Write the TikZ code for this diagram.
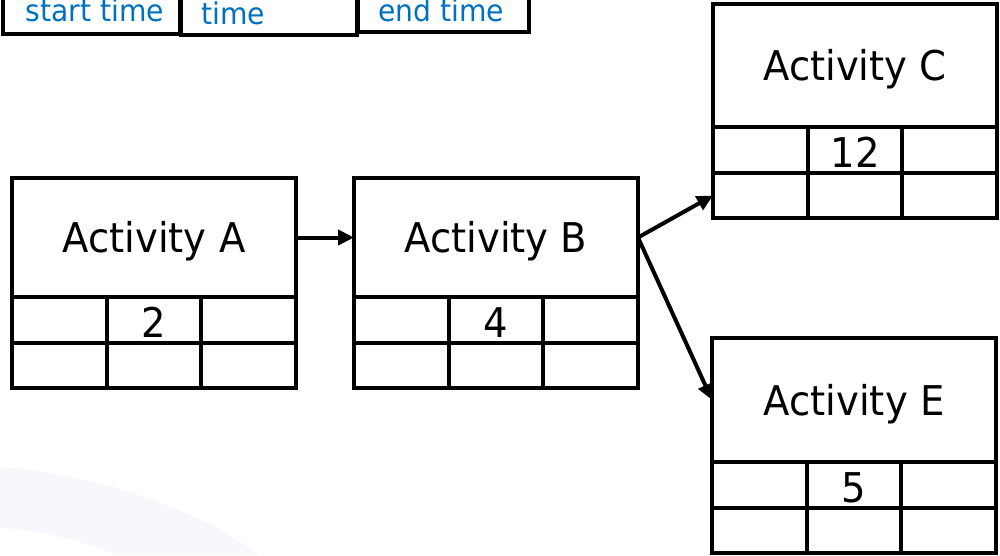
\documentclass[tikz,border=0pt]{standalone}
\usepackage{fontspec}
\setmainfont[FakeStretch=0.94]{DejaVu Sans}
\usetikzlibrary{arrows.meta}
\definecolor{lblblue}{RGB}{0,112,192}
\definecolor{bgarc}{RGB}{247,248,251}
\tikzset{
  box/.style={draw=black,line width=4pt,inner sep=0pt,outer sep=0pt},
  cell/.style={box,minimum width=94.67pt,minimum height=#1},
  title/.style={font=\fontsize{41}{41}\selectfont,anchor=base,inner sep=0pt},
  num/.style={font=\fontsize{41}{41}\selectfont,anchor=base,inner sep=0pt},
  toplbl/.style={font=\fontsize{30}{30}\selectfont,text=lblblue,anchor=base,inner sep=0pt},
  conn/.style={line width=4pt,-{Triangle[length=16pt,width=15pt]}}
}
\newcommand{\actbox}[6]{%
  \node[box,minimum width=284pt,minimum height=#4pt,anchor=north west] (#1-h) at (#2,#3) {};
  \node[title] (#1-t) at ([yshift=-15pt]#1-h.center) {#5};
  \node[cell=46pt,anchor=north west] (#1-a1) at (#1-h.south west) {};
  \node[cell=46pt,anchor=west] (#1-a2) at (#1-a1.east) {};
  \node[cell=46pt,anchor=west] (#1-a3) at (#1-a2.east) {};
  \node[cell=45pt,anchor=north west] (#1-b1) at (#1-a1.south west) {};
  \node[cell=45pt,anchor=west] (#1-b2) at (#1-b1.east) {};
  \node[cell=45pt,anchor=west] (#1-b3) at (#1-b2.east) {};
  \node[num] (#1-n) at ([yshift=-40pt]#1-a2.north) {#6};
}
\begin{document}
\begin{tikzpicture}[x=1pt,y=-1pt]
\useasboundingbox (0,0) rectangle (1000,555);
\clip (0,0) rectangle (1000,555);
% faint background arc
\fill[bgarc] (0,467) .. controls (100,475) and (200,510) .. (259,555)
  -- (116,555) .. controls (80,540) and (40,530) .. (0,528) -- cycle;
% top strip (cut off)
\node[box,minimum width=177pt,minimum height=60pt,anchor=south west] (t1) at (3,34) {};
\node[box,minimum width=176pt,minimum height=60pt,anchor=south west] (t2) at (181,35) {};
\node[box,minimum width=171pt,minimum height=60pt,anchor=south west] (t3) at (358,32) {};
\node[toplbl] (t1l) at (95,21) {start time};
\node[toplbl] (t2l) at (233,24) {time};
\node[toplbl] (t3l) at (441,21) {end time};
% activities
\actbox{A}{12}{178}{119}{Activity A}{2}
\actbox{B}{354}{178}{119}{Activity B}{4}
\actbox{C}{713}{4}{123}{Activity C}{12}
\actbox{E}{712}{338}{124}{Activity E}{5}
% connectors
\draw[conn] (A-h.east) -- (B-h.west);
\draw[conn] (B-h.east) -- (C-b1.west);
\draw[conn] (B-h.east) -- (E-h.west);
\end{tikzpicture}
\end{document}
